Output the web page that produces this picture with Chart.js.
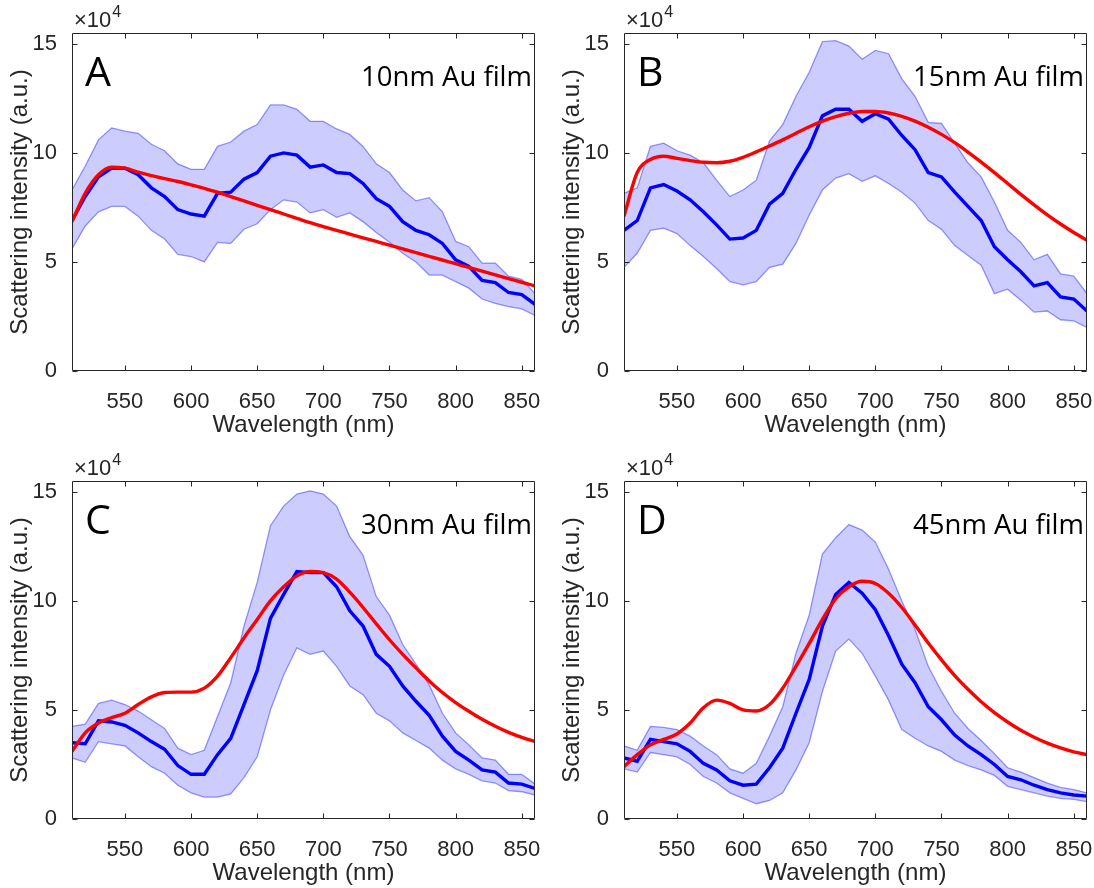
<!DOCTYPE html>
<html>
<head>
<meta charset="utf-8">
<script src="https://cdn.jsdelivr.net/npm/chart.js@4.4.1/dist/chart.umd.min.js"></script>
<style>
  html, body { margin: 0; padding: 0; background: #fff; overflow: hidden; }
  #wrap { position: relative; width: 1094px; height: 888px; }
  canvas { position: absolute; }
</style>
</head>
<body>
<div id="wrap">
  <canvas id="cA" width="547" height="448" style="left:0px;top:0px"></canvas>
  <canvas id="cB" width="547" height="448" style="left:552px;top:0px"></canvas>
  <canvas id="cC" width="547" height="448" style="left:0px;top:448px"></canvas>
  <canvas id="cD" width="547" height="448" style="left:552px;top:448px"></canvas>
</div>
<script>
// wavelength (nm)
var wavelength = [510, 520, 530, 540, 550, 560, 570, 580, 590, 600, 610, 620, 630, 640, 650, 660, 670, 680,
  690, 700, 710, 720, 730, 740, 750, 760, 770, 780, 790, 800, 810, 820, 830, 840, 850, 860];
var xTicks = [550, 600, 650, 700, 750, 800, 850];
var yTicks = [0, 5, 10, 15];

// values x10^4
var meanA = [6.9, 8.0, 8.9, 9.3, 9.3, 9.0, 8.4, 8.0, 7.4, 7.2, 7.1, 8.15, 8.2, 8.8, 9.1, 9.85, 10.0, 9.9,
  9.35, 9.45, 9.1, 9.05, 8.6, 7.9, 7.55, 6.85, 6.45, 6.25, 5.85, 5.1, 4.8, 4.15, 4.05, 3.6, 3.5, 3.05];
var upperA = [8.3, 9.4, 10.6, 11.15, 11.0, 10.9, 10.4, 10.1, 9.5, 9.25, 9.25, 10.3, 10.5, 11.0, 11.3, 12.2, 12.2, 12.0,
  11.45, 11.45, 11.1, 10.85, 10.3, 9.5, 9.1, 8.3, 7.8, 7.95, 7.3, 5.95, 5.7, 4.95, 4.95, 4.35, 4.2, 3.55];
var lowerA = [5.6, 6.65, 7.3, 7.55, 7.55, 7.1, 6.45, 6.05, 5.35, 5.25, 5.0, 5.9, 5.85, 6.5, 6.75, 7.4, 7.85, 7.75,
  7.25, 7.4, 7.05, 7.25, 6.85, 6.35, 5.9, 5.4, 5.0, 4.4, 4.4, 4.1, 3.8, 3.3, 3.1, 2.95, 2.85, 2.55];
var fitA = [6.85, 8.15, 9.0, 9.35, 9.3, 9.12, 8.96, 8.82, 8.69, 8.54, 8.38, 8.2, 8.0, 7.8, 7.6, 7.4, 7.2, 7.0,
  6.8, 6.62, 6.45, 6.28, 6.11, 5.94, 5.77, 5.6, 5.43, 5.26, 5.09, 4.92, 4.75, 4.58, 4.41, 4.24, 4.07, 3.9];

var meanB = [6.45, 6.9, 8.4, 8.55, 8.25, 7.85, 7.3, 6.7, 6.05, 6.1, 6.45, 7.65, 8.15, 9.25, 10.25, 11.7, 12.0, 12.0,
  11.45, 11.8, 11.55, 10.8, 10.15, 9.1, 8.9, 8.2, 7.55, 6.9, 5.7, 5.1, 4.55, 3.9, 4.05, 3.4, 3.3, 2.75];
var upperB = [8.15, 8.4, 10.3, 10.45, 10.1, 9.9, 9.55, 8.75, 8.0, 8.3, 8.75, 10.55, 11.3, 12.6, 13.7, 15.1, 15.15, 14.9,
  14.3, 14.7, 14.55, 13.4, 12.6, 11.4, 11.35, 10.45, 9.55, 8.9, 7.75, 6.45, 5.9, 5.1, 5.35, 4.45, 4.35, 3.55];
var lowerB = [4.75, 5.4, 6.45, 6.55, 6.3, 5.75, 5.25, 4.7, 4.1, 3.95, 4.1, 4.75, 4.9, 5.85, 7.15, 8.3, 8.85, 9.05,
  8.7, 8.95, 8.6, 8.2, 7.7, 6.9, 6.5, 5.75, 5.3, 4.85, 3.55, 3.75, 3.25, 2.7, 2.75, 2.35, 2.3, 2.0];
var fitB = [7.1, 9.1, 9.7, 9.85, 9.75, 9.65, 9.57, 9.55, 9.62, 9.8, 10.05, 10.32, 10.6, 10.9, 11.2, 11.46, 11.67, 11.82,
  11.9, 11.9, 11.83, 11.68, 11.46, 11.18, 10.85, 10.47, 10.04, 9.58, 9.1, 8.6, 8.1, 7.62, 7.16, 6.74, 6.35, 6.0];

var meanC = [3.5, 3.45, 4.5, 4.45, 4.3, 3.95, 3.55, 3.2, 2.45, 2.05, 2.05, 2.95, 3.7, 5.25, 6.8, 9.2, 10.3, 11.35,
  11.3, 11.3, 10.65, 9.55, 8.85, 7.55, 7.0, 6.1, 5.4, 4.75, 3.8, 3.1, 2.7, 2.25, 2.15, 1.65, 1.6, 1.4];
var upperC = [4.25, 4.35, 5.3, 5.45, 5.25, 4.95, 4.55, 4.15, 3.25, 2.95, 3.15, 4.7, 6.25, 8.85, 10.85, 13.45, 14.35, 14.9,
  15.05, 14.9, 14.35, 12.95, 12.1, 10.2, 9.35, 8.0, 7.1, 6.15, 4.85, 3.95, 3.4, 2.8, 2.7, 2.05, 2.05, 1.6];
var lowerC = [2.8, 2.6, 3.55, 3.45, 3.35, 2.85, 2.4, 2.1, 1.55, 1.2, 1.0, 1.0, 1.15, 1.9, 2.85, 5.0, 6.6, 7.85,
  7.55, 7.7, 7.0, 6.1, 5.7, 4.85, 4.5, 3.95, 3.6, 3.25, 2.7, 2.3, 2.05, 1.75, 1.65, 1.3, 1.25, 1.1];
var fitC = [3.1, 3.95, 4.4, 4.65, 4.85, 5.25, 5.6, 5.8, 5.82, 5.82, 6.0, 6.55, 7.4, 8.3, 9.15, 10.0, 10.65, 11.15,
  11.35, 11.3, 11.0, 10.4, 9.7, 8.95, 8.22, 7.55, 6.93, 6.33, 5.8, 5.34, 4.94, 4.57, 4.25, 3.97, 3.74, 3.55];

var meanD = [2.8, 2.65, 3.65, 3.55, 3.45, 3.1, 2.55, 2.25, 1.75, 1.55, 1.6, 2.35, 3.25, 4.85, 6.4, 8.85, 10.3, 10.85,
  10.35, 9.6, 8.4, 7.1, 6.25, 5.15, 4.55, 3.85, 3.35, 2.95, 2.5, 1.95, 1.8, 1.55, 1.35, 1.2, 1.1, 1.05];
var upperD = [3.35, 3.15, 4.25, 4.2, 4.1, 3.8, 3.35, 2.95, 2.3, 2.1, 2.55, 3.8, 5.15, 7.6, 9.35, 12.15, 12.9, 13.5,
  13.25, 12.7, 11.45, 10.0, 8.7, 7.0, 5.85, 4.85, 4.15, 3.6, 3.0, 2.35, 2.15, 1.9, 1.65, 1.45, 1.35, 1.2];
var lowerD = [2.3, 2.15, 3.05, 2.95, 2.85, 2.5, 1.95, 1.65, 1.2, 0.95, 0.7, 0.85, 1.2, 2.25, 3.5, 5.85, 7.7, 8.25,
  7.6, 6.55, 5.45, 4.1, 3.7, 3.35, 3.1, 2.7, 2.45, 2.25, 2.0, 1.5, 1.35, 1.2, 1.05, 0.95, 0.9, 0.8];
var fitD = [2.4, 2.95, 3.4, 3.65, 3.9, 4.4, 5.1, 5.45, 5.3, 5.0, 4.95, 5.25, 6.0, 7.0, 8.05, 9.15, 10.1, 10.65,
  10.9, 10.8, 10.35, 9.7, 8.9, 8.07, 7.3, 6.58, 5.95, 5.38, 4.88, 4.45, 4.07, 3.75, 3.48, 3.26, 3.08, 2.95];

var AXIS = '#262626';
var SANS = '"Liberation Sans", Arial, Helvetica, sans-serif';

function pts(ys) {
  return wavelength.map(function (w, i) { return { x: w, y: ys[i] }; });
}

// box with inward ticks, exponent and panel labels
var boxPlugin = {
  id: 'box',
  afterDraw: function (chart) {
    var ctx = chart.ctx, a = chart.chartArea;
    var xs = chart.scales.x, ys = chart.scales.y;
    var o = chart.options.plugins.box;
    var L = Math.round(a.left) + 0.5, R = Math.round(a.right) - 0.5;
    var T = Math.round(a.top) + 0.5, B = Math.round(a.bottom) - 0.5;
    ctx.save();
    ctx.strokeStyle = AXIS;
    ctx.lineWidth = 1;
    ctx.beginPath();
    ctx.rect(L, T, R - L, B - T);
    xTicks.forEach(function (v) {
      var px = Math.round(xs.getPixelForValue(v)) + 0.5;
      ctx.moveTo(px, B); ctx.lineTo(px, B - 5);
      ctx.moveTo(px, T); ctx.lineTo(px, T + 5);
    });
    yTicks.forEach(function (v) {
      var py = Math.round(ys.getPixelForValue(v)) + 0.5;
      ctx.moveTo(L, py); ctx.lineTo(L + 5, py);
      ctx.moveTo(R, py); ctx.lineTo(R - 5, py);
    });
    ctx.stroke();

    // x10^4
    ctx.fillStyle = AXIS;
    ctx.textBaseline = 'alphabetic';
    ctx.textAlign = 'left';
    ctx.font = '22px ' + SANS;
    ctx.fillText('\u00d710', a.left + 2, a.top - 6);
    var w = ctx.measureText('\u00d710').width;
    ctx.font = '16px ' + SANS;
    ctx.fillText('4', a.left + 2 + w + 1, a.top - 16);

    // panel letter + film label
    ctx.fillStyle = '#000';
    ctx.font = '41px "Open Sans", sans-serif';
    ctx.fillText(o.letter, a.left + 13, a.top + 53);
    ctx.textAlign = 'right';
    ctx.font = '27.5px "Open Sans", sans-serif';
    ctx.fillText(o.label, a.right - 3, a.top + 53);
    ctx.restore();
  }
};

function makePanel(id, letter, label, mean, upper, lower, fit) {
  return new Chart(document.getElementById(id), {
    type: 'line',
    data: {
      datasets: [
        { data: pts(fit), borderColor: '#ff0000', borderWidth: 3.4, pointRadius: 0,
          cubicInterpolationMode: 'monotone', fill: false },
        { data: pts(mean), borderColor: '#0000ff', borderWidth: 3.4, pointRadius: 0,
          tension: 0, fill: false },
        { data: pts(upper), borderColor: 'rgba(0,0,255,0.4)', borderWidth: 1.3, pointRadius: 0,
          tension: 0, fill: '+1', backgroundColor: 'rgba(0,0,255,0.2)' },
        { data: pts(lower), borderColor: 'rgba(0,0,255,0.4)', borderWidth: 1.3, pointRadius: 0,
          tension: 0, fill: false }
      ]
    },
    options: {
      responsive: false,
      animation: false,
      devicePixelRatio: 1,
      layout: { padding: { left: 0, top: 33, right: 12, bottom: 0 } },
      plugins: {
        legend: { display: false },
        tooltip: { enabled: false },
        filler: { drawTime: 'beforeDatasetsDraw' },
        box: { letter: letter, label: label }
      },
      scales: {
        x: {
          type: 'linear', min: 510, max: 860,
          grid: { display: false }, border: { display: false },
          afterBuildTicks: function (s) { s.ticks = xTicks.map(function (v) { return { value: v }; }); },
          afterFit: function (s) { s.height = 77; s.paddingLeft = 0; s.paddingRight = 0; },
          ticks: { color: AXIS, padding: 10, maxRotation: 0, autoSkip: false, font: { family: SANS, size: 22 } },
          title: { display: true, text: 'Wavelength (nm)', color: AXIS, padding: { top: 0, bottom: 8 },
            font: { family: SANS, size: 24 } }
        },
        y: {
          type: 'linear', min: 0, max: 15.5,
          grid: { display: false }, border: { display: false },
          afterBuildTicks: function (s) { s.ticks = yTicks.map(function (v) { return { value: v }; }); },
          afterFit: function (s) { s.width = 72; s.paddingTop = 0; s.paddingBottom = 0; },
          ticks: { color: AXIS, padding: 7, autoSkip: false, font: { family: SANS, size: 22 } },
          title: { display: true, text: 'Scattering intensity (a.u.)', color: AXIS, padding: { top: 6, bottom: 0 },
            font: { family: SANS, size: 24 } }
        }
      }
    },
    plugins: [boxPlugin]
  });
}

makePanel('cA', 'A', '10nm Au film', meanA, upperA, lowerA, fitA);
makePanel('cB', 'B', '15nm Au film', meanB, upperB, lowerB, fitB);
makePanel('cC', 'C', '30nm Au film', meanC, upperC, lowerC, fitC);
makePanel('cD', 'D', '45nm Au film', meanD, upperD, lowerD, fitD);
</script>
</body>
</html>
